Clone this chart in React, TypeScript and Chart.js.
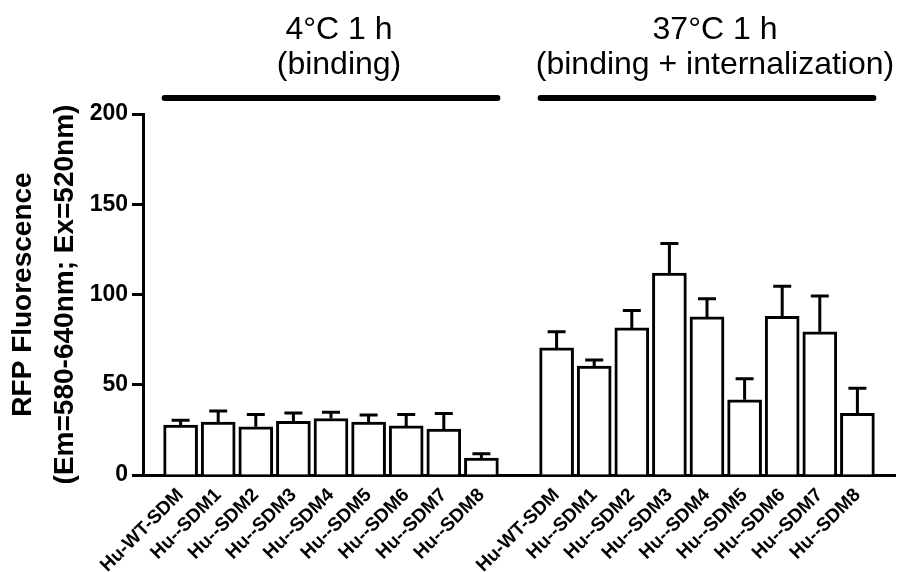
import React, { useEffect, useRef } from 'react';
import { Chart, registerables } from 'chart.js';

Chart.register(...registerables);

// ---- data ----
const group1Labels = ['Hu-WT-SDM', 'Hu--SDM1', 'Hu--SDM2', 'Hu--SDM3', 'Hu--SDM4', 'Hu--SDM5', 'Hu--SDM6', 'Hu--SDM7', 'Hu--SDM8'];
const group2Labels = ['Hu-WT-SDM', 'Hu--SDM1', 'Hu--SDM2', 'Hu--SDM3', 'Hu--SDM4', 'Hu--SDM5', 'Hu--SDM6', 'Hu--SDM7', 'Hu--SDM8'];
const group1Means = [27.6, 29.3, 26.7, 29.8, 31.3, 29.3, 27.2, 25.4, 9.4];
const group1Errors = [2.8, 6.1, 6.8, 4.6, 3.5, 4.0, 6.3, 8.7, 2.4];
const group2Means = [70.4, 60.4, 81.5, 111.8, 87.6, 41.7, 87.9, 79.3, 34.1];
const group2Errors = [9.0, 3.3, 9.6, 16.4, 10.0, 11.6, 16.7, 19.8, 13.9];
const groupTitles = [
  ['4°C 1 h', '(binding)'],
  ['37°C 1 h', '(binding + internalization)'],
];
const yTickValues = [0, 50, 100, 150, 200];
const yTitle = ['RFP Fluorescence', '(Em=580-640nm; Ex=520nm)'];

// ---- derived (spacer categories around / between groups) ----
const labels = ['', ...group1Labels, '', ...group2Labels, ''];
const means: (number | null)[] = [null, ...group1Means, null, ...group2Means, null];
const errors: (number | null)[] = [null, ...group1Errors, null, ...group2Errors, null];
const groupRanges = [
  [1, group1Labels.length],
  [group1Labels.length + 2, group1Labels.length + 1 + group2Labels.length],
];

const FONT = '"Liberation Sans", Arial, Helvetica, sans-serif';

const errorBarPlugin = {
  id: 'errorBars',
  afterDatasetsDraw(chart: any) {
    const ctx = chart.ctx;
    const meta = chart.getDatasetMeta(0);
    const y = chart.scales.y;
    ctx.save();
    ctx.strokeStyle = '#000';
    ctx.lineWidth = 3;
    meta.data.forEach((bar: any, i: number) => {
      const v = means[i];
      const e = errors[i];
      if (v == null || e == null) return;
      const top = y.getPixelForValue(v);
      const et = y.getPixelForValue(v + e);
      ctx.beginPath();
      ctx.moveTo(bar.x, top);
      ctx.lineTo(bar.x, et);
      ctx.moveTo(bar.x - 9, et);
      ctx.lineTo(bar.x + 9, et);
      ctx.stroke();
    });
    ctx.restore();
  },
};

const groupHeaderPlugin = {
  id: 'groupHeaders',
  afterDraw(chart: any) {
    const ctx = chart.ctx;
    const x = chart.scales.x;
    ctx.save();
    groupRanges.forEach(([a, b], gi) => {
      const left = x.getPixelForValue(a) - 16;
      const right = x.getPixelForValue(b) + 16;
      ctx.strokeStyle = '#000';
      ctx.lineWidth = 6;
      ctx.lineCap = 'round';
      ctx.beginPath();
      ctx.moveTo(left, 98);
      ctx.lineTo(right, 98);
      ctx.stroke();
      const cx = (left + right) / 2 + 8;
      ctx.fillStyle = '#000';
      ctx.font = `32px ${FONT}`;
      ctx.textAlign = 'center';
      ctx.textBaseline = 'alphabetic';
      ctx.fillText(groupTitles[gi][0], cx, 39);
      ctx.fillText(groupTitles[gi][1], cx, 74);
    });
    ctx.restore();
  },
};

export default function App() {
  const ref = useRef<HTMLCanvasElement>(null);
  useEffect(() => {
    if (!ref.current) return;
    Chart.defaults.font.family = FONT;
    const chart = new Chart(ref.current, {
      type: 'bar',
      data: {
        labels,
        datasets: [
          {
            data: means,
            backgroundColor: '#ffffff',
            borderColor: '#000000',
            borderWidth: 3,
            barThickness: 34,
          },
        ],
      },
      options: {
        animation: false,
        responsive: false,
        devicePixelRatio: 1,
        layout: { padding: { top: 114, right: 2, left: 0, bottom: 0 } },
        plugins: { legend: { display: false }, tooltip: { enabled: false } },
        scales: {
          x: {
            type: 'category',
            offset: false,
            grid: { display: false },
            border: { display: true, color: '#000', width: 3 },
            ticks: {
              autoSkip: false,
              minRotation: 45,
              maxRotation: 45,
              padding: 1,
              color: '#000',
              font: { size: 19, weight: 'bold' },
            },
            afterFit(scale: any) {
              scale.height = 97;
              scale.paddingLeft = 0;
              scale.paddingRight = 0;
            },
          },
          y: {
            min: 0,
            max: 200,
            grid: {
              display: true,
              drawOnChartArea: false,
              drawTicks: true,
              tickLength: 11,
              tickWidth: 3,
              tickColor: '#000',
            },
            border: { display: true, color: '#000', width: 3 },
            ticks: {
              padding: 4,
              color: '#000',
              font: { size: 23, weight: 'bold' },
            },
            afterBuildTicks(scale: any) {
              scale.ticks = yTickValues.map((v) => ({ value: v }));
            },
            title: {
              display: true,
              text: yTitle,
              color: '#000',
              font: { size: 28, weight: 'bold', lineHeight: 1.5 },
              padding: { top: 2, bottom: 0 },
            },
            afterFit(scale: any) {
              scale.width = 143;
            },
          },
        },
      },
      plugins: [errorBarPlugin, groupHeaderPlugin],
    } as any);
    return () => chart.destroy();
  }, []);
  return (
    <div style={{ position: 'absolute', left: 0, top: 0, width: 897, height: 572, background: '#fff' }}>
      <canvas ref={ref} width={897} height={572} />
    </div>
  );
}
